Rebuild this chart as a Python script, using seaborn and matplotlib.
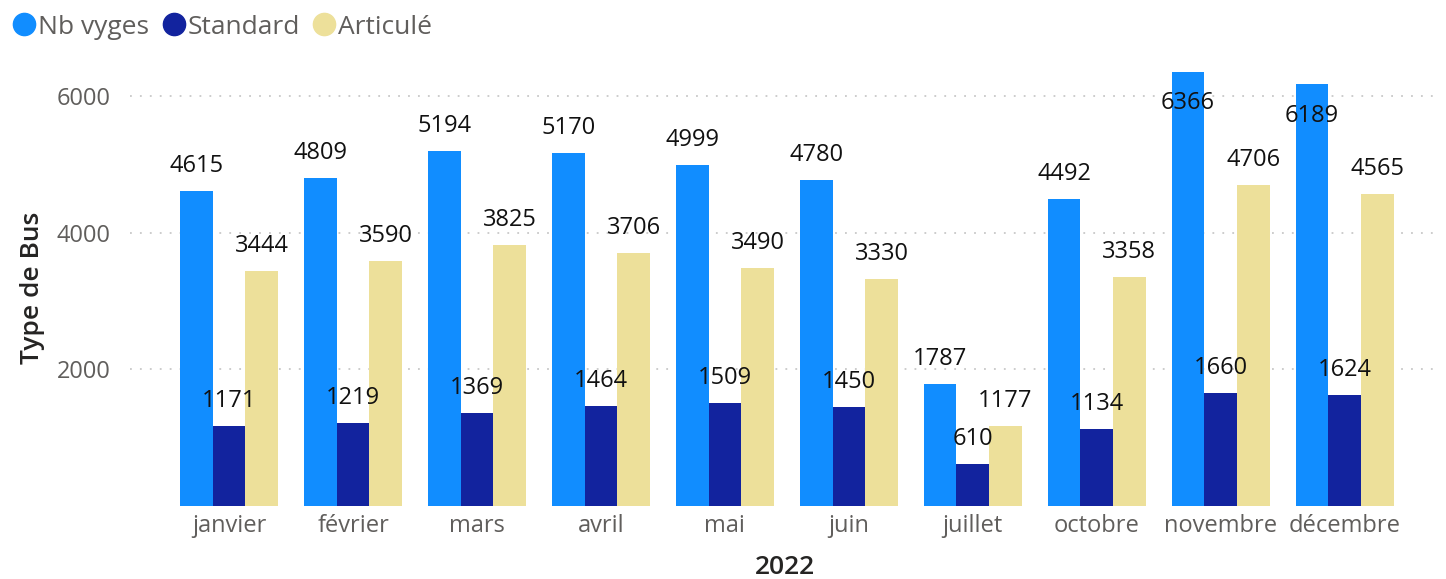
import matplotlib
matplotlib.use("Agg")
import matplotlib.pyplot as plt
from matplotlib.lines import Line2D
import seaborn as sns
import pandas as pd

months = ["janvier", "février", "mars", "avril", "mai", "juin",
          "juillet", "octobre", "novembre", "décembre"]
nb_vyges = [4615, 4809, 5194, 5170, 4999, 4780, 1787, 4492, 6366, 6189]
standard = [1171, 1219, 1369, 1464, 1509, 1450, 610, 1134, 1660, 1624]
articule = [3444, 3590, 3825, 3706, 3490, 3330, 1177, 3358, 4706, 4565]
series_names = ["Nb vyges", "Standard", "Articulé"]
colors = ["#118DFF", "#12239E", "#EDE09A"]

df = pd.DataFrame({
    "mois": months * 3,
    "serie": [series_names[0]] * 10 + [series_names[1]] * 10 + [series_names[2]] * 10,
    "valeur": nb_vyges + standard + articule,
})

sns.set_theme(style="white")
plt.rcParams["font.family"] = ["Open Sans", "DejaVu Sans"]

fig = plt.figure(figsize=(14.46, 5.79), dpi=100)
ax = fig.add_axes([130 / 1446, 1 - 506 / 579, 1310 / 1446, 436 / 579])

sns.barplot(data=df, x="mois", y="valeur", hue="serie", order=months,
            hue_order=series_names, palette=colors, width=0.79,
            saturation=1, ax=ax, legend=False, errorbar=None, linewidth=0)

ymax = 6388
ax.set_ylim(0, ymax)
ax.set_xlim(-0.8, 9.77)
ax.set_yticks([2000, 4000, 6000])
ax.yaxis.grid(True, linestyle=(0, (1, 4.5)), color="#C8C8C8", linewidth=1.3)
ax.set_axisbelow(True)
for s in ax.spines.values():
    s.set_visible(False)
ax.tick_params(axis="both", length=0, colors="#605E5C", labelsize=17)
ax.tick_params(axis="x", pad=6)
ax.tick_params(axis="y", pad=14)

ax.set_xlabel("2022", fontsize=19, fontweight="semibold", color="#252423", labelpad=12)
ax.set_ylabel("Type de Bus", fontsize=19, fontweight="semibold", color="#252423", labelpad=8)

# value labels: above the bar, or just inside its top when there is no room
for container, vals in zip(ax.containers, [nb_vyges, standard, articule]):
    for patch, v in zip(container.patches, vals):
        cx = patch.get_x() + patch.get_width() / 2
        if v > 5900:
            ax.annotate(f"{v}", (cx, v), xytext=(0, -23), textcoords="offset points",
                        ha="center", va="center", fontsize=17, color="#111111",
                        annotation_clip=False)
        else:
            ax.annotate(f"{v}", (cx, v), xytext=(0, 18), textcoords="offset points",
                        ha="center", va="center", fontsize=17, color="#111111",
                        annotation_clip=False)

handles = [Line2D([0], [0], marker="o", linestyle="", markersize=16,
                  markerfacecolor=c, markeredgecolor=c) for c in colors]
fig.legend(handles, series_names, loc="upper left", bbox_to_anchor=(0.0, 1.0),
           ncol=3, frameon=False, fontsize=19, handlelength=0.75,
           handletextpad=0.15, columnspacing=0.55, labelcolor="#605E5C",
           borderaxespad=0.15)

fig.savefig("out.png", dpi=100)
